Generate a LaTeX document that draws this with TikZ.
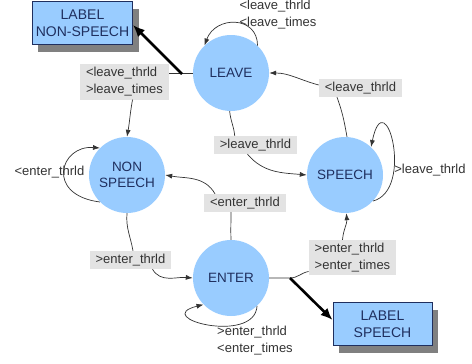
\documentclass[tikz,border=0pt]{standalone}
\usepackage{fontspec}
\setmainfont{Liberation Sans}
\usetikzlibrary{arrows.meta,shadows}
\definecolor{stateblue}{HTML}{99CCFF}
\definecolor{navy}{HTML}{1F2F5F}
\definecolor{lblgray}{HTML}{E3E3E3}
\definecolor{edgec}{HTML}{333333}
\definecolor{shadowc}{HTML}{808080}
\begin{document}
\begin{tikzpicture}[x=1pt,y=-1pt,
  font=\fontsize{13}{17}\selectfont,
  state/.style={circle,fill=stateblue,minimum size=76pt,inner sep=0pt,text=navy,align=center,font=\fontsize{13.5}{16}\selectfont},
  outbox/.style={rectangle,draw=navy,line width=0.8pt,fill=stateblue,minimum width=99pt,minimum height=43pt,align=center,text=navy,
    font=\fontsize{14}{17}\selectfont,
    drop shadow={shadow xshift=6pt,shadow yshift=-7pt,fill=shadowc,opacity=1}},
  elabel/.style={rectangle,fill=lblgray,inner xsep=6pt,inner ysep=3pt,align=left,text=edgec},
  plabel/.style={inner sep=0pt,align=left,text=edgec},
  conn/.style={draw=edgec,line width=0.7pt},
  arr/.style={conn,-{Latex[length=7pt,width=5pt]}},
  bigarrow/.style={draw=black,line width=2.6pt,-{Latex[length=12pt,width=10pt]}}]
\useasboundingbox (0,0) rectangle (472,364);

% states
\node[state] (leave) at (231,73) {LEAVE};
\node[state] (ns) at (127,175) {NON\\SPEECH};
\node[state] (speech) at (345,175) {SPEECH};
\node[state] (enter) at (231,278) {ENTER};

% output boxes
\node[outbox] (lns) at (82.5,23) {LABEL\\NON-SPEECH};
\node[outbox] (ls) at (382.5,324) {LABEL\\SPEECH};

% edge label boxes
\node[elabel] (L1) at (124.5,82) {<leave\_thrld\\>leave\_times};
\node[elabel] (L2) at (255.5,145) {>leave\_thrld};
\node[elabel] (L3) at (360.5,88) {<leave\_thrld};
\node[elabel] (L4) at (245,203) {<enter\_thrld};
\node[elabel] (L5) at (130.5,260) {>enter\_thrld};
\node[elabel] (L6) at (352.5,257.5) {>enter\_thrld\\>enter\_times};

% plain labels
\node[plabel] (T1) at (278,15) {<leave\_thrld\\<leave\_times};
\node[plabel] (T2) at (430,170) {>leave\_thrld};
\node[plabel] (T3) at (49.5,172) {<enter\_thrld};
\node[plabel] (T4) at (255,341) {>enter\_thrld\\<enter\_times};

% junctions
\coordinate (j1) at (182,74);
\coordinate (j2) at (290,278);

% LEAVE -> NON SPEECH
\draw[conn] (leave.west) -- (L1.east |- leave.west);
\draw[arr] ([xshift=8pt]L1.south) to[out=-100,in=80] (ns.north);
\draw[bigarrow] (j1) -- ([yshift=-2pt]lns.east);

% LEAVE self loop
\draw[arr] (leave.46) .. controls +(0,-30) and +(11,-30) .. (leave.134);

% LEAVE -> SPEECH
\draw[conn] (leave.268) to[out=-85,in=95] ([xshift=21pt]L2.north west);
\draw[arr] ([xshift=-8pt]L2.south) to[out=-50,in=175] (speech.west);

% SPEECH -> LEAVE
\draw[conn] (speech.87) to[out=100,in=-70] ([xshift=-23.5pt]L3.south);
\draw[arr] ([yshift=3pt]L3.west) to[out=165,in=0] (leave.east);

% SPEECH self loop
\draw[arr] (speech.-43) .. controls (415,190) and (385,80) .. (speech.47);

% ENTER -> NON SPEECH
\draw[conn] (enter.north) to[out=92,in=-90] ([xshift=-14pt]L4.south);
\draw[arr] ([xshift=-30pt]L4.north) to[out=120,in=-10] (ns.east);

% NON SPEECH -> ENTER
\draw[conn] (ns.south) to[out=-95,in=100] ([xshift=2.5pt]L5.north);
\draw[arr] ([xshift=22pt]L5.south) to[out=-60,in=175] (enter.west);

% NON SPEECH self loop
\draw[arr] (ns.-135) .. controls (45,195) and (60,145) .. (ns.135);

% ENTER self loop
\draw[arr] (enter.-47) .. controls (255,345) and (150,318) .. (enter.-136);

% ENTER -> SPEECH
\draw[conn] (enter.east) -- (j2) to[out=0,in=190] ([yshift=-14pt]L6.west);
\draw[arr] ([xshift=-10pt]L6.north) to[out=85,in=-85] (speech.272);
\draw[bigarrow] (j2) -- ([yshift=4pt]ls.west);
\end{tikzpicture}
\end{document}
